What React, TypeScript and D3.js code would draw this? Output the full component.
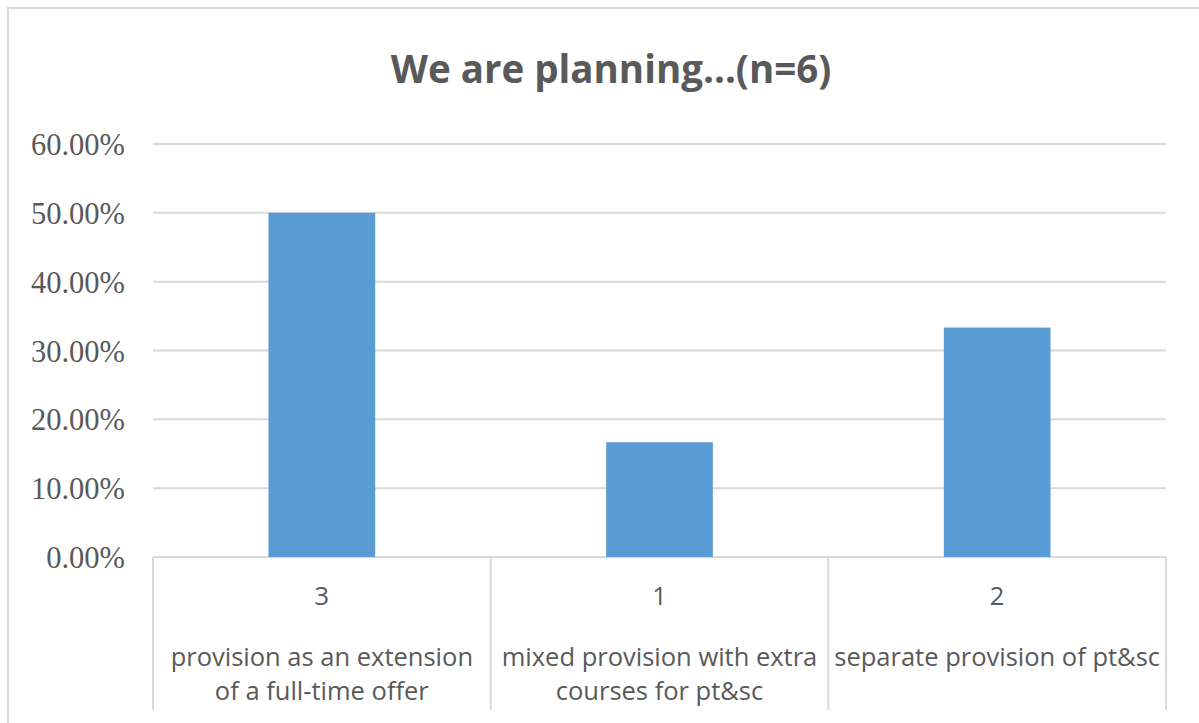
import React from 'react';
import * as d3 from 'd3';

// chart values
const categories = [
  'provision as an extension of a full-time offer',
  'mixed provision with extra courses for pt&sc',
  'separate provision of pt&sc',
];
const categoryLines = [
  ['provision as an extension', 'of a full-time offer'],
  ['mixed provision with extra', 'courses for pt&sc'],
  ['separate provision of pt&sc'],
];
const counts = ['3', '1', '2'];
const shares = [0.5, 0.1667, 0.3333];
const yTicks = [0, 0.1, 0.2, 0.3, 0.4, 0.5, 0.6];
const title = 'We are planning...(n=6)';

const W = 1199;
const H = 723;
const plot = { left: 153, right: 1166, top: 144, bottom: 557 };
const gridColor = '#d9d9d9';
const textColor = '#595959';
const sans = '"Open Sans", "Noto Sans", sans-serif';
const serif = '"Liberation Serif", "DejaVu Serif", serif';

const App: React.FC = () => {
  const x = d3.scaleBand<string>()
    .domain(categories)
    .range([plot.left, plot.right])
    .paddingInner(0)
    .paddingOuter(0);

  const y = d3.scaleLinear()
    .domain([0, 0.6])
    .range([plot.bottom, plot.top]);

  const barW = x.bandwidth() * 0.316;
  const fmt = d3.format('.2%');

  // band edges for the category separators
  const edges = [...categories.map(c => x(c)!), plot.right];

  return (
    <svg
      width={W}
      height={H}
      style={{ position: 'absolute', left: 0, top: 0, background: '#fff' }}
    >
      {/* outer chart border, cut off at right and bottom */}
      <path d={`M8,${H} V8 H${W}`} fill="none" stroke={gridColor} strokeWidth={2} />

      <text
        x={611}
        y={83}
        textAnchor="middle"
        fill={textColor}
        fontFamily={sans}
        fontWeight="bold"
        fontSize={38.5}
      >
        {title}
      </text>

      {/* gridlines + y labels */}
      {yTicks.map(t => (
        <g key={t}>
          <line
            x1={plot.left}
            x2={plot.right}
            y1={y(t)}
            y2={y(t)}
            stroke={gridColor}
            strokeWidth={2}
          />
          <text
            x={125}
            y={y(t) + 11}
            textAnchor="end"
            fill={textColor}
            fontFamily={serif}
            fontSize={30.5}
          >
            {fmt(t)}
          </text>
        </g>
      ))}

      {/* bars */}
      {categories.map((c, i) => (
        <rect
          key={c}
          x={x(c)! + (x.bandwidth() - barW) / 2}
          y={y(shares[i])}
          width={barW}
          height={y(0) - y(shares[i])}
          fill="#5b9bd5"
        />
      ))}

      {/* category separators */}
      {edges.map((e, i) => (
        <line
          key={i}
          x1={e}
          x2={e}
          y1={plot.bottom}
          y2={710}
          stroke={gridColor}
          strokeWidth={2}
        />
      ))}

      {/* two-level category labels */}
      {categories.map((c, i) => {
        const cx = x(c)! + x.bandwidth() / 2;
        return (
          <g key={c} fill={textColor} fontFamily={sans} fontSize={25.5} textAnchor="middle">
            <text x={cx} y={605}>{counts[i]}</text>
            {categoryLines[i].map((line, j) => (
              <text key={j} x={cx} y={666 + j * 34}>{line}</text>
            ))}
          </g>
        );
      })}
    </svg>
  );
};

export default App;
